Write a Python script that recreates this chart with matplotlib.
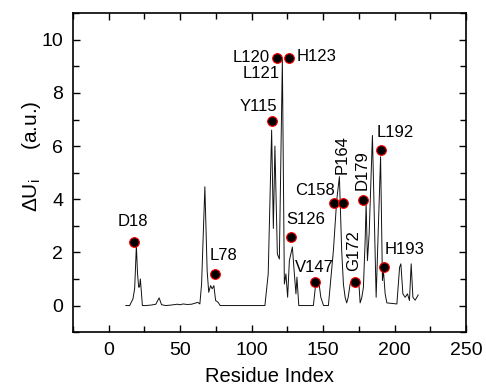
import matplotlib.pyplot as plt
from matplotlib.ticker import MultipleLocator

plt.rcParams['font.family'] = ['Liberation Sans', 'DejaVu Sans']
plt.rcParams['mathtext.fontset'] = 'custom'
plt.rcParams['mathtext.rm'] = 'Liberation Sans'

# profile (residue index, delta U)
residue = [12, 14.7, 17, 18.2, 19.4, 20.2, 21, 21.6, 22.2, 23.6, 26, 30, 33, 35.3, 37, 40,
           44, 48, 50, 52, 55, 58, 62.4, 63.8, 65, 67.3, 68.9, 70, 71.3, 72.4, 73.6, 74.8,
           76.6, 78, 85, 95, 105, 109.3, 111.6, 114, 115.2, 116.3, 118, 119.4, 121.5, 122.9,
           124, 125.2, 126.4, 128.5, 129.9, 131, 131.7, 133, 143.2, 144.8, 146, 147.2, 148.4,
           150.3, 153.7, 157.2, 159.5, 161.4, 163, 164.2, 165.4, 166.5, 167.5, 168.9, 171.2,
           173.5, 175.2, 175.9, 177.1, 178.2, 179.4, 180.1, 181, 182.2, 184.5, 187.1, 190.2,
           191.5, 192.2, 193.4, 194.6, 201.6, 203.5, 204.4, 205.8, 207.4, 209, 210.4, 211.6,
           212.8, 214.4, 216.5]
delta_u = [0, 0, 0.25, 0.64, 2.26, 1.2, 0.69, 0.7, 1.0, 0, 0, 0.02, 0.05, 0.29, 0.03, 0,
           0.02, 0.05, 0.03, 0.06, 0.04, 0.05, 0.12, 0.06, 0.8, 4.47, 1.3, 0.5, 0.75, 0.63, 0.75, 0.19,
           0.12, 0, 0, 0, 0, 0, 1.19, 6.6, 2.9, 6.0, 1.94, 1.75, 9.27, 0.81,
           1.19, 0.31, 1.69, 2.2, 1.19, 0.44, 1.07, 0, 0, 0.8, 0.69, 0.81, 0.31,
           0, 0, 2.07, 3.95, 4.85, 2.07, 0.81, 0.31, 0.1, 0.3, 0.81, 0.94,
           1.0, 0.69, 0.1, 0.31, 0.69, 2.44, 3.85, 1.69, 2.69, 6.4, 0.31, 5.6,
           0.94, 1.32, 0.44, 0.1, 0.06, 1.44, 1.57, 0.44, 0.31, 0.44, 0.19, 1.57,
           0.31, 0.2, 0.4]

# highlighted residues
names = ['D18', 'L78', 'Y115', 'L120', 'L121', 'H123', 'S126', 'V147', 'C158', 'P164',
         'G172', 'D179', 'L192', 'H193']
mark_x = [17.5, 74.3, 114, 117.5, None, 126.4, 127.6, 144.4, 157.9, 164.2, 172.4, 177.8, 190.4, 192.7]
mark_y = [2.38, 1.17, 6.95, 9.33, None, 9.33, 2.57, 0.88, 3.85, 3.85, 0.9, 3.97, 5.86, 1.44]
label_x = [16.8, 80.2, 105.1, 99.5, 106.5, 145.1, 137.7, 143.7, 144.4, 163.6, 171, 177.6, 200.4, 206.7]
label_y = [3.16, 1.88, 7.48, 9.34, 8.74, 9.36, 3.23, 1.45, 4.32, 5.68, 2.07, 5.11, 6.52, 2.12]
label_rot = [0, 0, 0, 0, 0, 0, 0, 0, 0, 90, 90, 90, 0, 0]

fig = plt.figure(figsize=(4.86, 3.88), dpi=100)
ax = fig.add_axes([0.150, 0.144, 0.809, 0.822])

ax.plot(residue, delta_u, color='#111111', lw=0.7)
mx = [v for v in mark_x if v is not None]
my = [v for v in mark_y if v is not None]
ax.plot(mx, my, 'o', color='black', markeredgecolor='red', markeredgewidth=0.8,
        markersize=7, linestyle='none', zorder=5)

for n, x, y, r in zip(names, label_x, label_y, label_rot):
    ax.text(x, y, n, ha='center', va='center', rotation=r, fontsize=12)

ax.set_xlim(-25, 250)
ax.set_ylim(-1, 11)
ax.xaxis.set_major_locator(MultipleLocator(50))
ax.xaxis.set_minor_locator(MultipleLocator(25))
ax.yaxis.set_major_locator(MultipleLocator(2))
ax.yaxis.set_minor_locator(MultipleLocator(1))
ax.tick_params(which='both', direction='in', top=True, right=True, labelsize=14, width=1, pad=7)
ax.tick_params(which='major', length=5)
ax.tick_params(which='minor', length=4)
for s in ax.spines.values():
    s.set_linewidth(1.2)

ax.set_xlabel('Residue Index', fontsize=14.5, labelpad=6)
ax.set_ylabel(r'$\Delta\mathrm{U}_{\mathrm{i}}$     (a.u.)', fontsize=15)
ax.yaxis.set_label_coords(-0.075, 0.55)

fig.savefig('out.png', dpi=100)
